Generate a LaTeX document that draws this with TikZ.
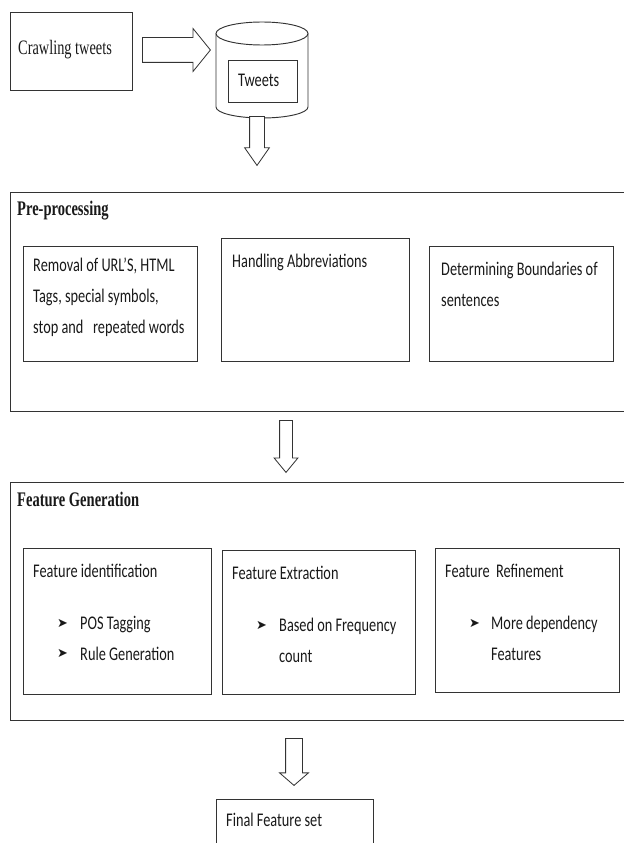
\documentclass[tikz,border=0pt]{standalone}
\usepackage{fontspec}
\setmainfont{Carlito}[FakeStretch=0.74]
\newfontfamily\serifhead{Liberation Serif}[FakeStretch=0.7]
\newfontfamily\symfont{DejaVu Sans}
\usetikzlibrary{shapes.arrows,fit,positioning}

\begin{document}
\begin{tikzpicture}[
    x=0.03cm, y=-0.03cm,
    box/.style={draw=black!80, line width=0.8pt, inner sep=0pt},
    bodytext/.style={font=\fontsize{16.5}{26.4}\selectfont, text=black!90, align=left, anchor=west, inner sep=0pt},
    headtext/.style={font=\serifhead\bfseries\fontsize{17.7}{20}\selectfont, text=black!90, anchor=west, inner sep=0pt},
    bulletnode/.style={font=\symfont\fontsize{11}{12}\selectfont, text=black!90, anchor=west, inner sep=0pt},
    hollowarrow/.style={single arrow, draw=black!80, line width=0.7pt, fill=white}
]
\useasboundingbox (0,0) rectangle (624,843);

% Crawling and storage
\node[box, fit={(10,12) (132,90)}] (crawl) {};
\node[anchor=west, inner sep=0pt, text=black!90, font=\serifhead\fontsize{17.5}{20}\selectfont] (crawltxt) at (18,50) {Crawling tweets};

\node[hollowarrow, anchor=tail, inner sep=12*0.03cm, minimum height=68*0.03cm,
      single arrow head extend=9*0.03cm, single arrow tip angle=102] (toDb) at (142,50) {};

\draw[box, fill=white] (216,34) -- (216,107) arc[start angle=180, end angle=0, x radius=46, y radius=11] -- (308,34);
\draw[box] (262,33.5) ellipse[x radius=46, y radius=11.5];
\coordinate (db) at (262,118);
\node[box, fit={(228,60) (297,102)}] (tweetbox) {};
\node[bodytext] (tweettxt) at (238,80) {Tweets};

\node[hollowarrow, anchor=tail, shape border rotate=270, inner sep=7*0.03cm, minimum height=49*0.03cm,
      single arrow head extend=5*0.03cm, single arrow tip angle=70] (toPre) at (257,116) {};

% Pre-processing
\node[box, fit={(10,192) (630,411)}] (pre) {};
\node[headtext] (pretitle) at (17,211) {Pre-processing};

\node[box, fit={(23,246) (197,361)}] (removal) {};
\node[bodytext] (removaltxt) at (33,297.5) {Removal of URL’S, HTML\\Tags, special symbols,\\stop and \ \ repeated words};

\node[box, fit={(221,238) (409,361)}] (abbrev) {};
\node[bodytext] (abbrevtxt) at (232,262) {Handling Abbreviations};

\node[box, fit={(429,246) (613,361)}] (bound) {};
\node[bodytext] (boundtxt) at (441,284) {Determining Boundaries of\\sentences};

\node[hollowarrow, anchor=tail, shape border rotate=270, inner sep=6*0.03cm, minimum height=52*0.03cm,
      single arrow head extend=5.5*0.03cm, single arrow tip angle=79] (toFeat) at (286,420) {};

% Feature generation
\node[box, fit={(10,482) (630,720)}] (feat) {};
\node[headtext] (feattitle) at (17,499) {Feature Generation};

\node[box, fit={(23,548) (211,694)}] (ident) {};
\node[bodytext] (identtxt) at (33,571) {Feature identification};
\node[bulletnode] (identb1) at (57,623) {➤};
\node[bulletnode] (identb2) at (57,653) {➤};
\node[bodytext] (identlist) at (80,638) {POS Tagging\\Rule Generation};

\node[box, fit={(222,550) (415,694)}] (extract) {};
\node[bodytext] (extracttxt) at (232,573) {Feature Extraction};
\node[bulletnode] (extractb1) at (256,625) {➤};
\node[bodytext] (extractlist) at (279,640) {Based on Frequency\\count};

\node[box, fit={(435,548) (619,692)}] (refine) {};
\node[bodytext] (refinetxt) at (445,571) {Feature \ Refinement};
\node[bulletnode] (refineb1) at (469,623) {➤};
\node[bodytext] (refinelist) at (491,638) {More dependency\\Features};

\node[hollowarrow, anchor=tail, shape border rotate=270, inner sep=8*0.03cm, minimum height=47*0.03cm,
      single arrow head extend=6*0.03cm, single arrow tip angle=98] (toFinal) at (294,738) {};

% Output
\node[box, fit={(216,799) (373,850)}] (final) {};
\node[bodytext] (finaltxt) at (226,820) {Final Feature set};

\end{tikzpicture}
\end{document}
